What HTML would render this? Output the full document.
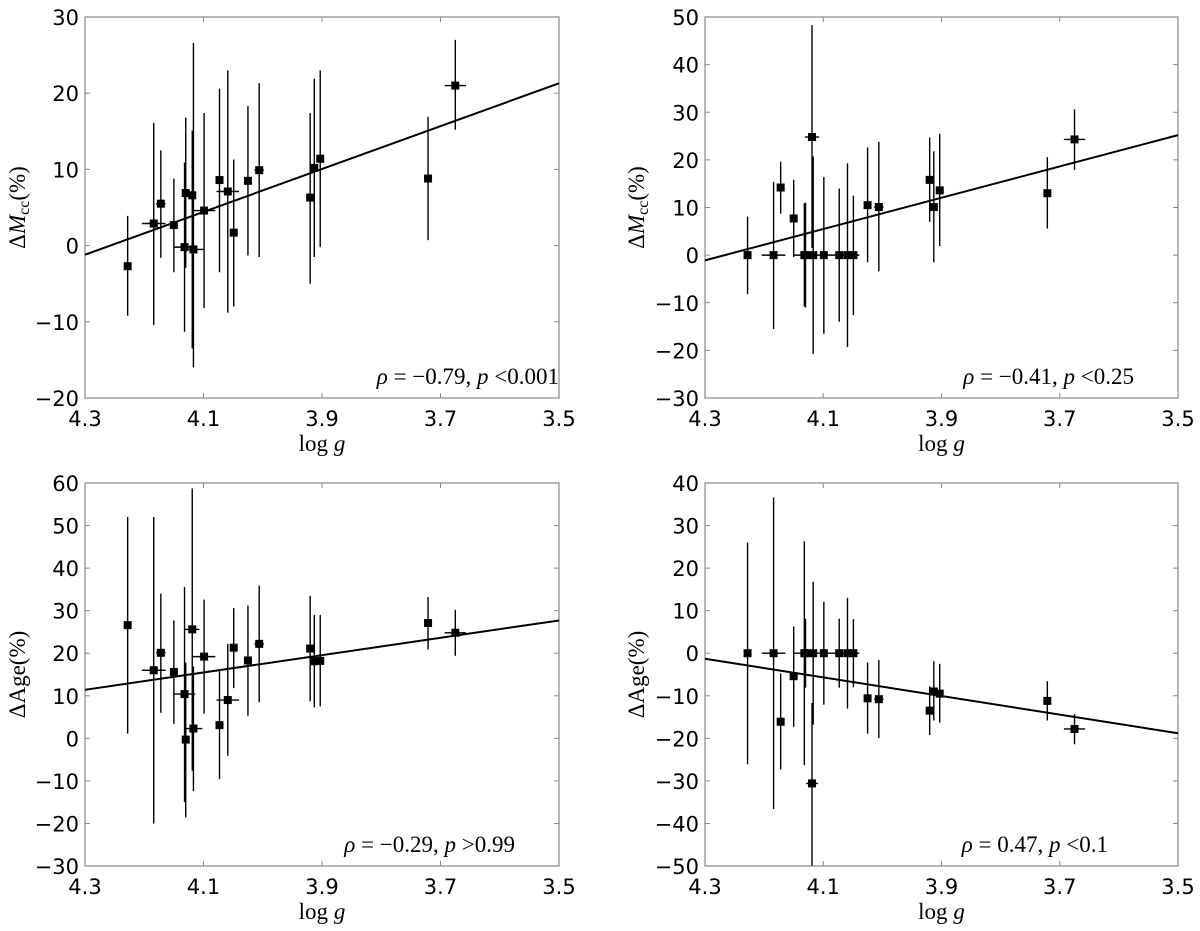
<!DOCTYPE html>
<html><head><meta charset="utf-8"><style>
html,body{margin:0;padding:0;background:#fff;}
svg{display:block;}
.tk{font-family:"DejaVu Sans","Liberation Sans",sans-serif;font-size:21px;fill:#000;}
.sf{font-family:"Liberation Serif","DejaVu Serif",serif;font-size:23px;fill:#000;}
</style></head><body>
<svg id="fig" width="1200" height="931" viewBox="0 0 1200 931" xmlns="http://www.w3.org/2000/svg"></svg>
<script>
// shared x data (log g)
const logg = [4.228,4.184,4.172,4.150,4.132,4.130,4.119,4.117,4.099,4.073,4.059,4.049,4.025,4.006,3.920,3.913,3.903,3.721,3.675];
const xTicks = [4.3,4.1,3.9,3.7,3.5];
const xTickLabels = ["4.3","4.1","3.9","3.7","3.5"];

// panel A: Delta M_cc (top-left)
const yA = [-2.7,2.9,5.5,2.7,-0.2,6.9,6.6,-0.5,4.6,8.6,7.1,1.7,8.5,9.9,6.3,10.2,11.4,8.8,21.0];
const loA = [-9.2,-10.4,-1.6,-3.5,-11.3,-2.9,-13.5,-16,-8.2,-3.5,-8.8,-8.0,-1.3,-1.5,-5.0,-1.5,-0.2,0.7,15.2];
const hiA = [3.9,16.1,12.5,8.8,10.9,16.8,15.1,26.6,17.4,20.6,23.0,11.3,18.3,21.3,17.4,21.9,23.0,16.9,27.0];
const xeA = [0.004,0.02,0.008,0.006,0.018,0.004,0.006,0.018,0.019,0.004,0.019,0.004,0.006,0.008,0.006,0.004,0.006,0.002,0.018];
const fitA = [-1.2,21.3];
const yTicksA = [-20,-10,0,10,20,30];

// panel B: Delta M_cc (top-right)
const yB = [0,0,14.2,7.7,0,0,24.8,0,0,0,0,0,10.5,10.1,15.8,10.1,13.6,13.0,24.3];
const loB = [-8.2,-15.5,8.7,-0.4,-10.8,-11,1.5,-20.8,-16.5,-14,-19.3,-12.6,-1.5,-3.4,7,-1.5,1.9,5.6,17.9];
const hiB = [8.1,15.4,19.6,15.8,10.9,11,48.3,20.7,16.4,14,19.3,12.5,22.6,23.8,24.7,21.8,25.5,20.6,30.6];
const xeB = [0.004,0.02,0.006,0.006,0.018,0.004,0.012,0.004,0.02,0.004,0.02,0.008,0.006,0.008,0.006,0.004,0.006,0.002,0.018];
const fitB = [-1.1,25.2];
const yTicksB = [-30,-20,-10,0,10,20,30,40,50];

// panel C: Delta Age (bottom-left)
const yC = [26.6,16.0,20.1,15.6,10.4,-0.3,25.6,2.3,19.2,3.1,9.0,21.3,18.3,22.2,21.1,18.1,18.2,27.1,24.8];
const loC = [1.1,-20,6,3.4,-15,-18.6,-7.6,-12.4,5.8,-9.6,-4.1,11.8,5.3,8.5,8.7,7.3,7.5,20.9,19.4];
const hiC = [52,52,34,27.7,35.6,17.8,58.7,16.9,32.6,15.8,22.2,30.6,31.2,35.9,33.5,29,29,33.2,30.2];
const xeC = [0.004,0.02,0.008,0.006,0.018,0.004,0.012,0.015,0.019,0.004,0.019,0.006,0.006,0.008,0.006,0.004,0.006,0.002,0.018];
const fitC = [11.4,27.7];
const yTicksC = [-30,-20,-10,0,10,20,30,40,50,60];

// panel D: Delta Age (bottom-right)
const yD = [0,0,-16.1,-5.4,0,0,-30.6,0,0,0,0,0,-10.6,-10.8,-13.5,-9.0,-9.5,-11.2,-17.8];
const loD = [-26.1,-36.6,-27.3,-17.3,-26.3,-8.1,-49.9,-16.8,-12.1,-8.1,-13,-8,-18.9,-19.9,-19.2,-15.8,-16.3,-15.8,-21.4];
const hiD = [26,36.6,-4.8,6.3,26.3,8.1,-11.7,16.8,12.1,8.1,13,8,-2.2,-1.6,-7.8,-1.9,-2.5,-6.6,-14.3];
const xeD = [0.004,0.02,0.006,0.006,0.018,0.004,0.01,0.004,0.02,0.004,0.02,0.008,0.006,0.008,0.006,0.004,0.006,0.002,0.018];
const fitD = [-1.3,-18.8];
const yTicksD = [-50,-40,-30,-20,-10,0,10,20,30,40];

const NS="http://www.w3.org/2000/svg";
const svg=document.getElementById('fig');
function mk(tag,attrs,parent){const e=document.createElementNS(NS,tag);for(const k in attrs)e.setAttribute(k,attrs[k]);(parent||svg).appendChild(e);return e;}

function panel(key,L,R,T,B,ys,lo,hi,xe,fit,yTicks,ylabelHTML,ylabX,annot,annotX){
  const ymin=yTicks[0], ymax=yTicks[yTicks.length-1];
  const sx=v=>L+(4.3-v)/0.8*(R-L);
  const sy=v=>B-(v-ymin)/(ymax-ymin)*(B-T);
  const g=mk('g',{});
  
  
  const fr=mk('rect',{x:L,y:T,width:R-L,height:B-T,fill:'none',stroke:'#888','stroke-width':1.2},g);
  
  
  xTicks.forEach((t,i)=>{
    const x=sx(t);
    mk('line',{x1:x,x2:x,y1:B,y2:B-5,stroke:'#888','stroke-width':1},g);
    mk('line',{x1:x,x2:x,y1:T,y2:T+5,stroke:'#888','stroke-width':1},g);
    const tx=mk('text',{x:x,y:B+28,'text-anchor':'middle',class:'tk'},g);
    tx.textContent=xTickLabels[i];
    
    
  });
  yTicks.forEach(t=>{
    const y=sy(t);
    mk('line',{x1:L,x2:L+5,y1:y,y2:y,stroke:'#888','stroke-width':1},g);
    mk('line',{x1:R,x2:R-5,y1:y,y2:y,stroke:'#888','stroke-width':1},g);
    const tx=mk('text',{x:L-6,y:y+8,'text-anchor':'end',class:'tk'},g);
    tx.textContent=(t<0?'\u2212'+(-t):String(t));
    
    
  });
  const fl=mk('line',{x1:L,y1:sy(fit[0]),x2:R,y2:sy(fit[1]),stroke:'#000','stroke-width':2},g);
  
  
  logg.forEach((xv,i)=>{
    const x=sx(xv), y=sy(ys[i]);
    const pg=mk('g',{},g);
    
    
    mk('line',{x1:x,x2:x,y1:sy(lo[i]),y2:sy(hi[i]),stroke:'#000','stroke-width':1.4},pg);
    mk('line',{x1:sx(xv-xe[i]),x2:sx(xv+xe[i]),y1:y,y2:y,stroke:'#000','stroke-width':1.4},pg);
    mk('rect',{x:x-4,y:y-4,width:8,height:8,fill:'#000'},pg);
  });
  const xl=mk('text',{x:(L+R)/2,y:B+53,'text-anchor':'middle',class:'sf'},g);
  xl.innerHTML='log <tspan font-style="italic">g</tspan>';
  
  
  const cy=(T+B)/2;
  const yl=mk('text',{x:ylabX,y:cy,'text-anchor':'middle',class:'sf',transform:'rotate(-90 '+ylabX+' '+cy+')'},g);
  yl.innerHTML=ylabelHTML;
  
  
  const an=mk('text',{x:annotX,y:B-14,'text-anchor':'end',class:'sf'},g);
  an.innerHTML=annot;
  
  
}
const mcc='\u0394<tspan font-style="italic">M</tspan><tspan font-size="16" dy="4">cc</tspan><tspan dy="-4">(%)</tspan>';
const age='\u0394Age(%)';
panel('a',85,559,17,398,yA,loA,hiA,xeA,fitA,yTicksA,mcc,25,'<tspan font-style="italic">\u03C1</tspan> = \u22120.79, <tspan font-style="italic">p</tspan> &lt;0.001',559);
panel('b',705,1178,17,398,yB,loB,hiB,xeB,fitB,yTicksB,mcc,644,'<tspan font-style="italic">\u03C1</tspan> = \u22120.41, <tspan font-style="italic">p</tspan> &lt;0.25',1134);
panel('c',85,559,483,866,yC,loC,hiC,xeC,fitC,yTicksC,age,25,'<tspan font-style="italic">\u03C1</tspan> = \u22120.29, <tspan font-style="italic">p</tspan> &gt;0.99',515);
panel('d',705,1178,483,866,yD,loD,hiD,xeD,fitD,yTicksD,age,644,'<tspan font-style="italic">\u03C1</tspan> = 0.47, <tspan font-style="italic">p</tspan> &lt;0.1',1108);
</script>
</body></html>
